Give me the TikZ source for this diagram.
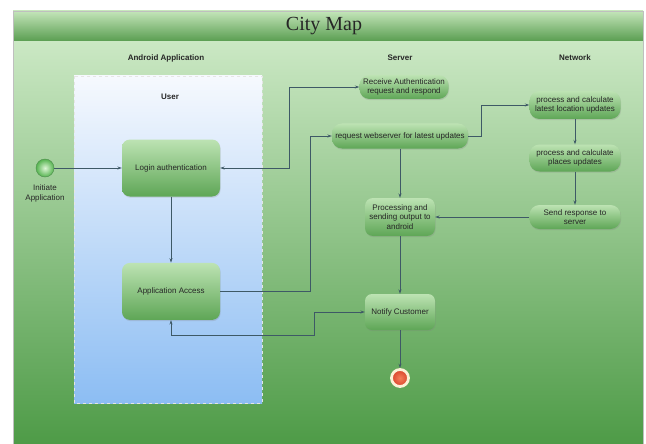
\documentclass[tikz,border=0pt]{standalone}
\usepackage{fontspec}
\setmainfont{Liberation Sans}
\newfontfamily\titlefont{Liberation Serif}
\usetikzlibrary{positioning, arrows.meta, shapes.geometric, backgrounds, fit, shadows}

\definecolor{bgtop}{HTML}{CBE8C4}
\definecolor{bgbot}{HTML}{4E9B47}
\definecolor{bandtop}{HTML}{C4E5BA}
\definecolor{bandmid}{HTML}{8CC881}
\definecolor{bandbot}{HTML}{5A9E51}
\definecolor{acttop}{HTML}{BDE3B3}
\definecolor{actbot}{HTML}{5EA656}
\definecolor{usertop}{HTML}{F6F9FE}
\definecolor{userbot}{HTML}{8CBDF3}
\definecolor{flowline}{HTML}{3E5966}
\definecolor{starttop}{HTML}{DDF6D6}
\definecolor{startbot}{HTML}{55B34F}
\definecolor{endin}{HTML}{F47F5A}
\definecolor{endout}{HTML}{D8432A}
\definecolor{endring}{HTML}{FBF1D6}

\begin{document}
\begin{tikzpicture}[x=1pt, y=-1pt,
    % general styles
    act/.style={rectangle, rounded corners=8pt, top color=acttop, bottom color=actbot, minimum width=98pt, minimum height=57pt, align=center, text=black!85, font=\fontsize{8}{9.5}\selectfont, drop shadow={shadow xshift=0.6pt, shadow yshift=-1.2pt, opacity=0.25}},
    pill/.style={act, rounded corners=10pt, minimum height=25pt, inner sep=2pt},
    lane/.style={font=\bfseries\fontsize{8}{9}\selectfont, text=black!85},
    startdot/.style={circle, minimum size=18pt, inner sep=0pt, inner color=starttop, outer color=startbot, draw=green!35!black!70, line width=0.4pt},
    enddot/.style={circle, minimum size=17pt, inner sep=0pt, inner color=endin, outer color=endout, draw=endring, line width=2.8pt},
    % arrow styles
    flow/.style={-{Stealth[length=4.5pt, width=3pt]}, draw=flowline, line width=0.7pt},
    both/.style={flow, {Stealth[length=4.5pt, width=3pt]}-{Stealth[length=4.5pt, width=3pt]}}
]
\useasboundingbox (0,0) rectangle (646,444);

% ====================
% frame and title
% ====================
\fill[white] (0,0) rectangle (646,444);
\fill[top color=bgtop, bottom color=bgbot] (13,41) rectangle (643,444);
\fill[top color=bandtop, middle color=bandmid, bottom color=bandbot] (13,11) rectangle (643,41);
\draw[gray!50, line width=0.5pt] (13,444) -- (13,11) -- (643,11) -- (643,444);
\node[font=\titlefont\fontsize{20}{21}\selectfont, text=black!85] (title) at (324,26) {City Map};

\node[lane] (laneA) at (166,58) {Android Application};
\node[lane] (laneS) at (400,58) {Server};
\node[lane] (laneN) at (575,58) {Network};

% ====================
% user box
% ====================
\fill[top color=usertop, bottom color=userbot] (74,76) rectangle (262,403);
\draw[white!80!gray, dashed, line width=0.6pt] (74,76) rectangle (262,403);
\node[lane] (user) at (170,97) {User};

% ====================
% Android application
% ====================
\node[startdot] (start) at (45,168) {};
\node[below=4pt of start, align=center, text=black!85, font=\fontsize{8}{9.5}\selectfont] (startlbl) {Initiate\\Application};

\node[act] (login) at (171,168) {Login authentication};
\node[act, below=66pt of login] (access) {Application Access};

% ====================
% server
% ====================
\node[pill, minimum width=89pt, minimum height=24pt] (recv) at (404,87) {Receive Authentication\\request and respond};
\node[pill, minimum width=136pt] (req) at (400,136) {request webserver for latest updates};
\node[pill, minimum width=70pt, minimum height=38pt, rounded corners=8pt] (proc) at (400,217) {Processing and\\sending output to\\android};
\node[act, minimum width=70pt, minimum height=36pt, rounded corners=7pt] (notify) at (400,312) {Notify Customer};
\node[enddot] (stop) at (400,378) {};

% ====================
% network
% ====================
\node[pill, minimum width=91pt, minimum height=28pt] (loc) at (575,105) {process and calculate\\latest location updates};
\node[pill, minimum width=91pt, minimum height=27pt] (places) at (575,158) {process and calculate\\places updates};
\node[pill, minimum width=91pt, minimum height=24pt] (send) at (575,217) {Send response to\\server};

% ====================
% connectors
% ====================
\draw[flow] (start) -- (login);
\draw[both] (login.east) -- ++(69,0) |- (recv.west);
\draw[flow] (login) -- (access);
\draw[flow] (access.east) -- ++(90,0) |- (req.west);
\draw[flow] (req) -- (proc);
\draw[flow] (req.east) -- ++(13,0) |- (loc.west);
\draw[flow] (loc) -- (places);
\draw[flow] (places) -- (send);
\draw[flow] (send) -- (proc);
\draw[flow] (proc) -- (notify);
\draw[flow] (notify) -- (stop);
\draw[both] (notify.west) -- ++(-50,0) -- ++(0,23) -| (access.south);

\end{tikzpicture}
\end{document}
